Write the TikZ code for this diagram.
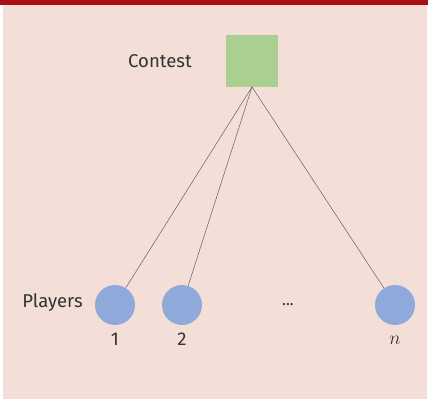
\documentclass[tikz,border=0pt]{standalone}
\usepackage{fontspec}
\setmainfont{Fira Sans}
\definecolor{bgpink}{HTML}{F3DFD7}
\definecolor{barred}{HTML}{AB0E14}
\definecolor{sqgreen}{HTML}{ABCF90}
\definecolor{plblue}{HTML}{8FAADA}
\definecolor{txt}{HTML}{333333}
\begin{document}
\begin{tikzpicture}[x=0.75pt,y=-0.75pt,
  player/.style={circle,fill=plblue,minimum size=30pt,inner sep=0pt},
  contest/.style={rectangle,fill=sqgreen,minimum size=39pt,inner sep=0pt},
  lbl/.style={font=\fontsize{13.9}{16}\selectfont,text=txt,inner sep=0pt},
  link/.style={draw=black!65,line width=0.35pt}]
\useasboundingbox (0,0) rectangle (428,399);
\fill[bgpink] (3,5) rectangle (427,399);
\fill[barred] (0,0) rectangle (428,5);
\node[contest] (c) at (252,61) {};
\node[lbl,anchor=east] (cl) at (192,61) {Contest};
\node[player] (p1) at (115,305) {};
\node[player] (p2) at (182,305) {};
\node[player] (pn) at (395,305) {};
\node[lbl,anchor=east] (pl) at (83,303) {Players};
\node[lbl,font=\fontsize{12}{14}\selectfont] (d) at (288,305) {...};
\node[lbl] (l1) at (115,339) {1};
\node[lbl] (l2) at (182,339) {2};
\node[lbl] (ln) at (395,340) {$n$};
\coordinate (o) at (252,87);
\draw[link] (o) -- (p1);
\draw[link] (o) -- (p2);
\draw[link] (o) -- (pn);
\end{tikzpicture}
\end{document}
